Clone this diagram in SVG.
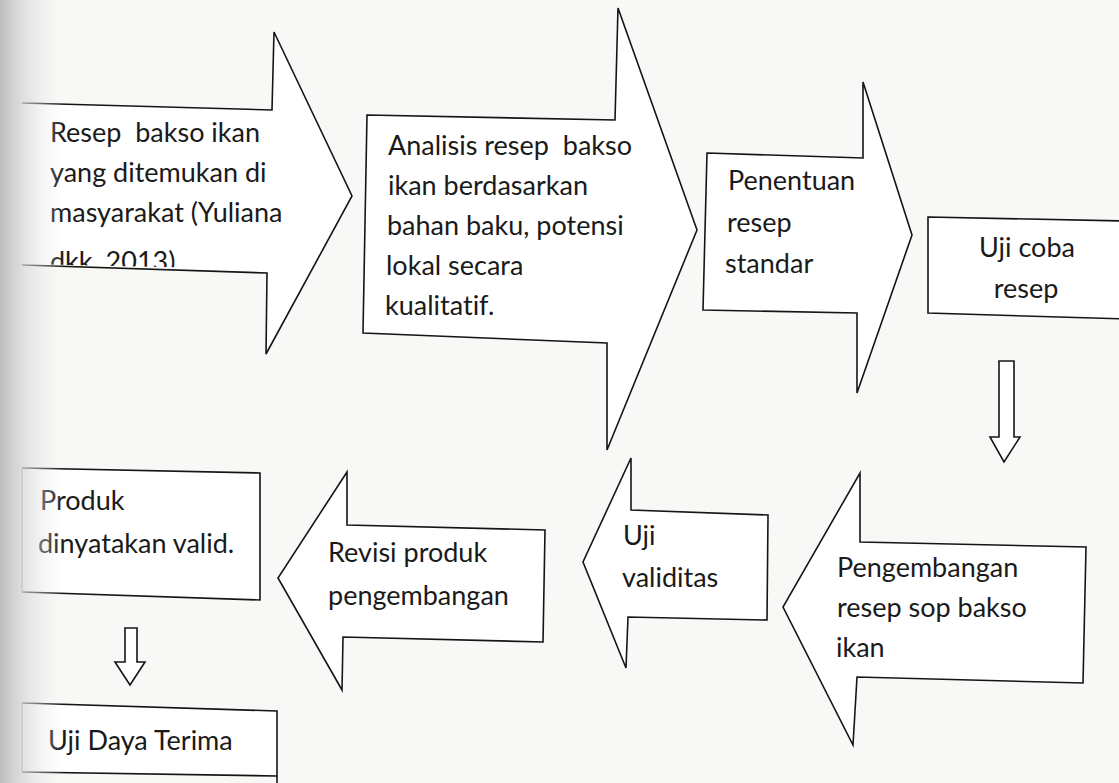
<svg xmlns="http://www.w3.org/2000/svg" width="1119" height="783" viewBox="0 0 1119 783">
<style>
.shape{fill:#ffffff;stroke:#151515;stroke-width:1.6;stroke-linejoin:miter}
.edge{fill:none;stroke:#151515;stroke-width:1.6}
.faint{fill:none;stroke:#9a9a9a;stroke-width:1.4}
.fill{fill:#ffffff;stroke:none}
text{font-family:Lato,"Open Sans","Liberation Sans",sans-serif;font-size:27px;fill:#1a1a1a;font-variant-ligatures:none;font-feature-settings:"liga" 0,"clig" 0}
.mid{text-anchor:middle}
</style>
<defs>
<linearGradient id="gutter" x1="0" y1="0" x2="1" y2="0">
<stop offset="0" stop-color="#b9b9b9" stop-opacity="0.95"/>
<stop offset="0.35" stop-color="#d6d6d6" stop-opacity="0.75"/>
<stop offset="1" stop-color="#f2f2f2" stop-opacity="0"/>
</linearGradient>
<clipPath id="clip1"><polygon points="0,90 400,90 400,272 22,264 0,264"/></clipPath>
</defs>
<rect x="0" y="0" width="1119" height="783" fill="#f8f8f6"/>

<g id="node-resep-bakso">
<polygon class="fill" points="22,103 272,110 274,32 352,196 266,354 267,273 22,265"/>
<path class="edge" d="M22,103 L272,110 L274,32 L352,196 L266,354 L267,273 L22,265"/>
<g clip-path="url(#clip1)">
<text x="50" y="142" xml:space="preserve">Resep  bakso ikan</text>
<text x="50" y="182">yang ditemukan di</text>
<text x="50" y="222">masyarakat (Yuliana</text>
<text x="50" y="271">dkk, 2013)</text>
</g>
</g>

<g id="node-analisis">
<polygon class="shape" points="367,115 615,120 618,8 697,230 607,450 607,343 363,333"/>
<text x="388" y="155" xml:space="preserve">Analisis resep  bakso</text>
<text x="388" y="195">ikan berdasarkan</text>
<text x="387" y="235">bahan baku, potensi</text>
<text x="386" y="275">lokal secara</text>
<text x="385" y="315">kualitatif.</text>
</g>

<g id="node-penentuan">
<polygon class="shape" points="707,153 863,158 863,82 912,235 857,393 857,313 703,310"/>
<text x="728" y="190">Penentuan</text>
<text x="727" y="232">resep</text>
<text x="725" y="273">standar</text>
</g>

<g id="node-uji-coba">
<polygon class="shape" points="928,217 1125,221 1125,319 928,313"/>
<text class="mid" x="1027" y="257">Uji coba</text>
<text class="mid" x="1026" y="298">resep</text>
</g>

<g id="node-pengembangan">
<polygon class="shape" points="860,473 860,542 1086,547 1083,683 857,677 853,745 783,607"/>
<text x="837" y="577">Pengembangan</text>
<text x="837" y="617">resep sop bakso</text>
<text x="836" y="657">ikan</text>
</g>

<g id="node-uji-validitas">
<polygon class="shape" points="631,458 631,510 768,515 767,620 628,617 626,668 583,562"/>
<text x="623" y="545">Uji</text>
<text x="622" y="587">validitas</text>
</g>

<g id="node-revisi">
<polygon class="shape" points="347,472 347,525 545,530 543,642 343,637 342,690 278,578"/>
<text x="328" y="562">Revisi produk</text>
<text x="328" y="605">pengembangan</text>
</g>

<g id="node-produk-valid">
<polygon class="fill" points="22,468 260,473 260,600 22,592"/>
<path class="edge" d="M22,468 L260,473 L260,600 L22,592"/>
<line class="faint" x1="22" y1="468" x2="22" y2="592"/>
<text x="40" y="510">Produk</text>
<text x="38" y="553">dinyatakan valid.</text>
</g>

<g id="node-uji-daya-terima">
<polygon class="fill" points="22,703 277,711 277,776 22,772"/>
<path class="edge" d="M22,703 L277,711 L277,783 M277,776 L22,772"/>
<line class="faint" x1="22" y1="703" x2="22" y2="772"/>
<text x="48" y="750">Uji Daya Terima</text>
</g>

<g id="connectors">
<polygon class="shape" points="999,361 1014,361 1014,437 1020,437 1004,462 990,437 999,437"/>
<polygon class="shape" points="125,628 137,628 137,662 145,662 130,685 115,662 125,662"/>
</g>

<rect x="0" y="0" width="64" height="783" fill="url(#gutter)"/>
</svg>
